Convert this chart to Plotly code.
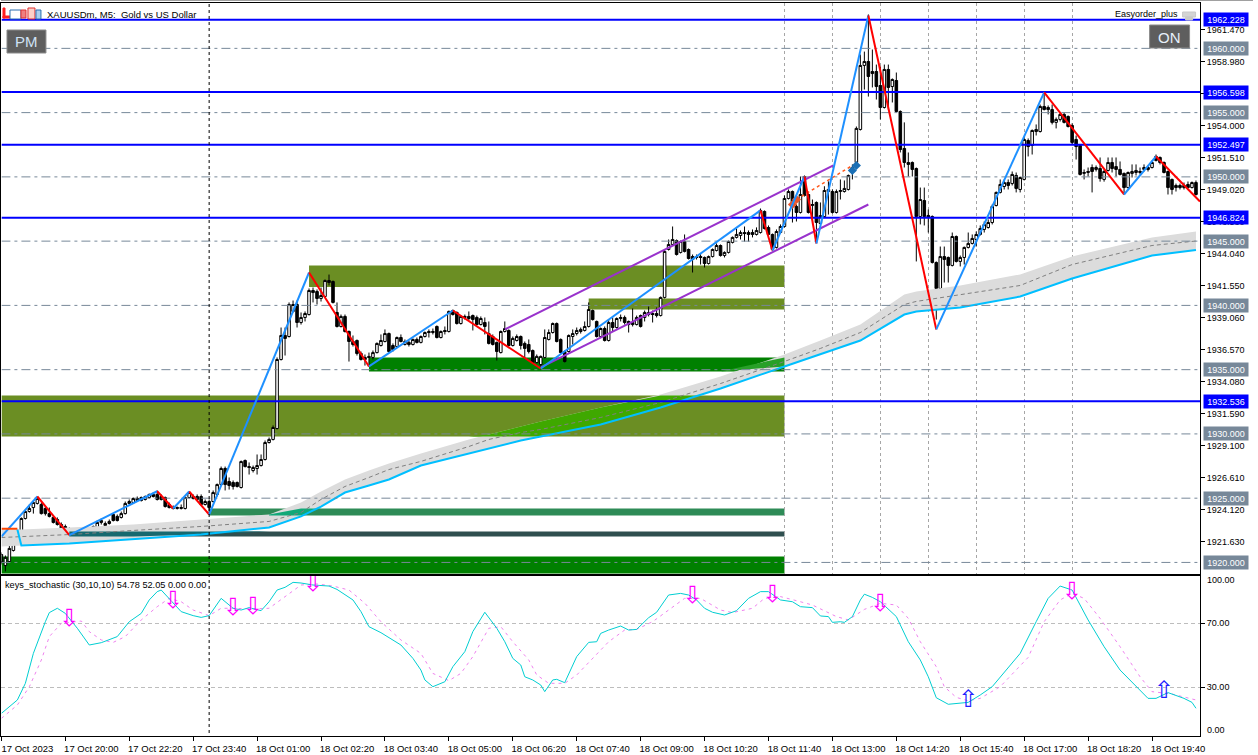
import numpy as np
import plotly.graph_objects as go

W, H = 1258, 755
W_AXIS = 1253.5   # width the page actually lays the paper out on

# ---------- candles: 5 minute XAUUSDm bars ----------
opens = [1920.62,1919.76,1920.07,1920.93,1922.09,1922.02,1923.42,1923.96,1924.27,1924.59,1924.51,1924.20,1923.80,1923.50,1923.34,1922.95,1922.79,1922.48,1922.17,1922.25,
1922.33,1922.41,1922.17,1922.48,1922.72,1923.11,1922.87,1923.03,1923.73,1923.58,1923.50,1923.80,1924.59,1924.66,1924.82,1925.05,1924.90,1925.05,1925.29,1925.29,
1925.13,1925.05,1924.51,1924.27,1924.20,1924.20,1924.20,1925.05,1924.98,1925.13,1925.13,1924.51,1924.74,1924.74,1925.29,1926.06,1927.31,1926.30,1926.22,1926.22,
1925.83,1927.93,1927.46,1927.15,1927.31,1927.54,1928.01,1929.33,1929.57,1930.42,1935.79,1937.66,1937.58,1939.53,1940.07,1938.67,1939.06,1939.29,1941.16,1941.08,
1940.54,1940.69,1941.94,1941.86,1939.45,1938.36,1939.14,1937.97,1937.19,1937.27,1936.26,1935.95,1936.03,1935.95,1936.33,1936.88,1937.19,1937.81,1936.88,1936.80,
1937.50,1936.96,1937.12,1936.96,1937.35,1937.12,1937.58,1937.97,1937.89,1938.36,1937.50,1938.05,1937.97,1939.60,1939.45,1938.59,1939.06,1939.14,1939.21,1939.06,
1938.51,1938.67,1937.81,1937.58,1937.12,1936.33,1937.97,1938.05,1936.88,1937.27,1937.58,1937.04,1936.96,1936.49,1935.56,1935.40,1935.95,1937.35,1937.89,1938.59,
1937.35,1936.41,1936.41,1937.58,1937.81,1937.97,1938.05,1938.36,1939.60,1938.75,1937.58,1938.20,1937.27,1938.67,1938.28,1938.98,1939.06,1938.75,1938.67,1938.51,
1939.21,1939.06,1939.29,1939.37,1939.37,1939.21,1940.62,1944.35,1944.74,1945.05,1944.12,1944.97,1944.35,1943.80,1943.80,1943.80,1943.73,1943.26,1943.80,1944.27,
1944.66,1943.88,1944.12,1944.90,1945.29,1945.44,1945.67,1945.67,1945.67,1945.52,1945.67,1947.31,1946.06,1945.52,1944.51,1945.67,1946.14,1948.32,1948.86,1947.70,
1947.23,1950.03,1948.63,1947.77,1948.01,1946.37,1946.92,1948.86,1948.86,1947.23,1948.86,1948.86,1949.02,1950.34,1951.12,1953.69,1958.67,1958.98,1958.20,1958.20,
1957.11,1955.40,1958.36,1957.03,1957.50,1955.09,1952.21,1951.12,1951.12,1950.65,1946.92,1948.16,1947.00,1946.92,1943.34,1941.32,1943.80,1943.73,1943.11,1945.36,
1943.42,1943.73,1944.51,1944.82,1945.13,1945.52,1945.91,1946.06,1946.45,1947.77,1948.79,1949.25,1949.56,1949.48,1950.11,1949.02,1949.80,1952.83,1952.44,1953.53,
1953.53,1955.48,1955.40,1955.24,1954.24,1954.47,1954.86,1954.70,1954.00,1952.91,1952.44,1950.27,1950.34,1950.73,1950.58,1950.65,1949.80,1950.50,1951.12,1950.80,
1950.58,1950.27,1949.17,1950.27,1950.34,1950.34,1950.58,1950.73,1950.73,1951.59,1951.51,1951.12,1950.42,1949.80,1949.33,1949.33,1949.17,1949.41,1949.17,1949.56]
highs = [1920.78,1920.54,1921.79,1922.17,1922.25,1923.50,1924.12,1924.51,1924.82,1925.13,1924.66,1924.35,1924.27,1923.65,1923.50,1923.11,1922.95,1922.72,1922.48,1922.48,
1922.56,1922.56,1922.56,1922.87,1923.26,1923.42,1923.19,1923.34,1923.80,1923.73,1923.96,1924.74,1924.90,1925.05,1925.13,1925.13,1925.21,1925.36,1925.44,1925.60,
1925.29,1925.13,1924.66,1924.43,1924.35,1924.51,1925.13,1925.52,1925.29,1925.29,1925.29,1924.90,1924.90,1925.60,1926.14,1927.46,1927.46,1926.61,1926.38,1926.30,
1927.93,1928.01,1927.78,1927.54,1928.40,1928.40,1929.49,1929.72,1930.66,1935.95,1938.28,1938.28,1940.23,1940.38,1940.38,1939.45,1939.53,1941.32,1941.39,1941.24,
1941.39,1942.02,1942.40,1941.94,1940.23,1939.29,1939.29,1938.05,1937.66,1937.35,1936.41,1936.18,1936.33,1936.49,1937.12,1937.74,1938.13,1937.89,1937.04,1937.58,
1937.74,1937.35,1937.27,1937.43,1937.50,1937.66,1937.97,1938.13,1938.20,1938.44,1938.05,1938.36,1939.60,1939.68,1939.53,1939.21,1939.29,1939.53,1939.29,1939.21,
1939.14,1939.06,1938.75,1937.74,1937.19,1938.05,1938.75,1938.13,1937.58,1937.74,1937.66,1937.19,1937.35,1936.57,1936.18,1936.10,1938.13,1938.13,1938.67,1938.67,
1937.43,1936.49,1937.74,1938.13,1938.28,1938.28,1938.75,1940.23,1939.68,1938.82,1938.28,1938.36,1938.90,1939.06,1939.06,1939.29,1939.21,1938.82,1939.76,1939.21,
1939.29,1939.60,1939.91,1939.60,1939.84,1940.69,1944.35,1945.13,1946.14,1945.13,1945.05,1945.52,1944.43,1943.96,1943.96,1944.04,1943.80,1943.88,1944.43,1944.82,
1944.74,1944.20,1945.05,1945.36,1945.98,1945.83,1946.14,1945.83,1945.91,1946.07,1947.54,1947.39,1946.22,1945.59,1945.91,1946.30,1948.55,1949.02,1948.94,1947.85,
1950.03,1950.11,1948.71,1948.24,1948.09,1948.01,1949.27,1949.65,1949.02,1949.02,1949.80,1949.72,1950.18,1950.97,1953.92,1959.52,1959.75,1962.64,1959.91,1958.74,
1958.59,1958.74,1958.74,1957.66,1958.12,1955.17,1954.24,1951.90,1951.20,1950.73,1949.17,1949.17,1947.46,1947.00,1943.42,1944.58,1944.58,1943.80,1945.67,1945.44,
1943.88,1944.58,1945.67,1945.52,1945.75,1946.22,1946.53,1946.69,1947.85,1948.86,1949.80,1949.80,1949.80,1950.42,1950.34,1950.03,1953.07,1952.99,1953.69,1954.08,
1955.63,1956.57,1955.56,1955.63,1954.62,1955.01,1955.01,1954.78,1954.16,1953.22,1952.52,1950.58,1950.73,1950.97,1950.89,1951.51,1950.58,1951.51,1951.51,1951.51,
1951.20,1950.34,1950.42,1950.97,1950.97,1950.73,1950.97,1950.89,1951.28,1951.74,1951.59,1951.20,1950.50,1949.87,1949.48,1949.48,1949.56,1949.64,1949.64,1949.72]
lows = [1919.84,1919.30,1920.00,1920.85,1921.71,1921.94,1923.34,1923.88,1923.80,1924.51,1923.73,1923.65,1923.50,1923.03,1922.87,1922.48,1922.41,1922.09,1922.09,1922.17,
1922.17,1922.17,1922.09,1922.41,1922.64,1922.95,1922.79,1922.95,1923.19,1923.19,1923.42,1923.73,1924.51,1924.59,1924.74,1924.74,1924.82,1924.98,1925.05,1924.82,
1924.82,1924.27,1924.20,1924.12,1924.12,1924.12,1924.12,1924.98,1924.90,1924.82,1924.43,1924.43,1923.73,1924.66,1925.13,1925.99,1925.60,1925.67,1925.67,1925.83,
1925.75,1927.39,1926.84,1927.00,1926.84,1927.46,1927.93,1929.25,1929.49,1930.35,1935.71,1936.10,1937.50,1939.45,1938.28,1938.51,1938.75,1939.21,1940.23,1940.07,
1940.30,1940.62,1941.55,1940.15,1938.28,1938.28,1937.89,1935.63,1936.80,1936.10,1935.71,1935.32,1935.24,1935.79,1936.26,1936.80,1937.12,1936.33,1936.41,1936.72,
1937.12,1936.88,1936.80,1936.88,1937.04,1937.04,1937.50,1937.50,1937.74,1937.43,1937.43,1937.74,1937.89,1939.21,1938.51,1938.51,1938.90,1938.82,1938.05,1938.44,
1938.44,1937.74,1936.96,1936.88,1935.71,1936.26,1937.89,1936.80,1936.80,1937.19,1936.57,1935.95,1936.26,1935.48,1935.48,1935.17,1935.87,1937.27,1937.81,1937.12,
1936.26,1935.56,1936.33,1936.96,1937.66,1937.81,1937.97,1938.28,1938.82,1937.50,1937.50,1937.19,1937.19,1937.97,1938.20,1938.75,1938.51,1937.89,1938.36,1938.44,
1938.28,1938.75,1939.14,1938.67,1939.06,1939.14,1940.54,1944.27,1944.66,1943.88,1944.04,1944.12,1943.57,1942.56,1943.57,1943.18,1942.95,1943.18,1943.73,1944.20,
1943.80,1943.73,1944.04,1944.82,1945.21,1945.13,1944.97,1944.97,1945.29,1945.44,1945.59,1945.91,1945.44,1944.27,1944.43,1945.59,1946.06,1948.24,1946.45,1946.53,
1947.15,1948.47,1947.15,1946.69,1944.90,1946.30,1946.84,1947.07,1947.15,1947.15,1948.24,1948.78,1948.94,1949.80,1951.04,1953.61,1956.80,1956.25,1956.96,1956.02,
1954.47,1955.32,1955.24,1955.79,1955.01,1951.90,1950.73,1950.03,1950.03,1943.42,1946.30,1946.22,1945.67,1943.26,1938.90,1940.85,1941.78,1941.78,1943.03,1943.34,
1943.03,1943.18,1944.43,1944.74,1944.58,1945.44,1945.67,1945.98,1946.30,1947.70,1948.71,1949.02,1949.02,1949.33,1948.79,1948.79,1949.72,1951.59,1951.74,1953.22,
1953.45,1955.17,1954.86,1954.08,1953.77,1954.31,1954.16,1953.84,1952.52,1951.35,1950.11,1949.80,1950.03,1948.79,1950.42,1949.63,1949.63,1950.42,1950.34,1950.03,
1950.11,1948.63,1949.10,1949.95,1950.11,1950.19,1950.42,1950.42,1950.65,1951.20,1950.97,1950.27,1948.63,1948.63,1948.86,1949.02,1949.02,1949.10,1949.10,1948.55]
closes = [1920.00,1920.39,1921.09,1922.02,1921.79,1923.42,1923.96,1924.20,1924.66,1924.98,1923.80,1923.80,1923.58,1923.11,1922.95,1922.56,1922.56,1922.17,1922.33,1922.41,
1922.41,1922.25,1922.48,1922.79,1923.11,1923.26,1923.03,1923.19,1923.26,1923.26,1923.80,1924.59,1924.74,1924.98,1924.98,1924.82,1925.13,1925.29,1925.13,1924.90,
1924.90,1924.35,1924.27,1924.20,1924.27,1924.27,1925.05,1925.44,1925.13,1924.90,1924.51,1924.74,1924.27,1925.44,1926.06,1927.31,1926.06,1925.99,1925.91,1925.91,
1927.85,1927.46,1927.39,1927.39,1927.54,1928.01,1929.33,1929.57,1930.50,1935.79,1937.66,1937.43,1940.07,1940.07,1938.67,1939.06,1939.37,1941.16,1941.00,1940.54,
1940.77,1941.94,1941.78,1940.23,1938.36,1939.14,1937.97,1937.19,1936.96,1936.26,1935.79,1935.79,1935.95,1936.33,1937.04,1937.27,1937.81,1936.41,1936.57,1937.50,
1937.19,1937.19,1936.96,1937.35,1937.12,1937.58,1937.89,1937.89,1937.97,1937.50,1937.97,1937.97,1939.53,1939.29,1938.59,1939.14,1939.14,1938.98,1938.90,1938.51,
1938.98,1938.36,1937.04,1936.96,1936.41,1937.97,1938.20,1936.88,1937.43,1937.58,1936.88,1936.65,1936.41,1935.56,1936.03,1936.03,1937.50,1937.89,1938.59,1937.19,
1936.33,1935.63,1937.66,1937.81,1938.05,1938.13,1938.36,1939.68,1938.90,1937.58,1938.20,1937.27,1938.67,1938.28,1938.98,1939.06,1938.67,1938.51,1938.51,1939.06,
1938.36,1939.45,1939.45,1939.29,1939.21,1940.62,1944.20,1944.74,1945.13,1943.96,1944.97,1944.20,1943.65,1943.57,1943.73,1943.73,1943.26,1943.80,1944.35,1944.66,
1943.88,1944.12,1944.97,1945.29,1945.52,1945.67,1945.59,1945.52,1945.52,1945.83,1947.39,1945.98,1945.52,1944.35,1945.75,1946.14,1948.32,1948.86,1947.70,1947.23,
1948.63,1948.55,1947.23,1947.85,1946.45,1946.99,1948.94,1949.02,1947.23,1948.86,1948.94,1949.10,1950.11,1950.73,1953.77,1958.67,1958.98,1957.81,1958.04,1957.03,
1955.40,1958.36,1956.96,1957.58,1955.09,1952.13,1951.12,1950.97,1950.58,1946.92,1948.24,1946.92,1946.84,1943.34,1941.32,1943.80,1943.57,1943.11,1945.36,1943.42,
1943.73,1944.51,1944.82,1945.21,1945.52,1945.98,1946.30,1946.45,1947.70,1948.79,1949.41,1949.56,1949.33,1950.19,1949.10,1949.95,1952.91,1952.36,1953.61,1953.69,
1955.48,1955.24,1955.24,1954.24,1954.47,1954.86,1954.24,1953.92,1952.68,1952.36,1950.19,1950.34,1950.42,1950.42,1950.73,1949.87,1950.42,1951.12,1950.65,1950.58,
1950.19,1949.17,1950.34,1950.42,1950.50,1950.42,1950.73,1950.58,1951.12,1951.28,1951.12,1950.34,1949.17,1949.02,1949.17,1949.17,1949.33,1949.17,1949.56,1948.63]

# ---------- moving average band ----------
ma_bars = [0,5,17,33,50,67,75,80,86,92,97,105,117,122,130,135,150,165,175,180,196,205,215,226,229,240,255,268,288,299]
ma_upper = [1922.56,1922.56,1922.72,1922.95,1923.34,1923.73,1924.66,1925.52,1926.45,1927.15,1927.70,1928.48,1929.57,1929.96,1930.58,1930.97,1932.06,1933.07,1934.00,1934.47,1936.18,1937.27,1938.52,1940.85,1941.08,1941.55,1942.41,1943.81,1945.29,1945.75]
ma_mid = [1921.94,1922.02,1922.17,1922.49,1922.80,1923.19,1923.89,1924.90,1925.91,1926.61,1927.23,1927.86,1929.02,1929.57,1930.11,1930.35,1931.28,1932.45,1933.46,1933.92,1935.64,1936.65,1937.89,1940.07,1940.31,1940.85,1941.55,1943.18,1944.66,1945.01]
ma_lower = [1921.24,1921.32,1921.47,1921.79,1922.17,1922.72,1923.58,1924.35,1925.44,1925.99,1926.45,1927.54,1928.48,1928.87,1929.49,1929.80,1930.73,1932.06,1933.07,1933.53,1935.25,1936.18,1937.27,1939.29,1939.53,1939.84,1940.69,1942.09,1943.88,1944.31]
ma_line_start_bar = 4
ma_line_start_price = 1922.56

# ---------- zigzag ----------
zig_bars = [0,9,17,39,43,47,52,77,92,113,135,190,193,201,204,217,234,261,281,289,300]
zig_prices = [1922.02,1925.13,1922.12,1925.54,1924.20,1925.52,1923.73,1942.56,1935.25,1939.60,1935.09,1947.39,1944.27,1950.03,1944.82,1962.56,1938.13,1956.57,1948.63,1951.59,1948.09]
orange_bars = [0,4]
orange_prices = [1922.62,1922.62]

# ---------- channel and trend ----------
chan_up_bars = [126,208.25]
chan_up_prices = [1938.13,1950.89]
chan_lo_bars = [135,217]
chan_lo_prices = [1935.17,1947.85]
trend_bars = [199,213]
trend_prices = [1948.24,1950.89]
sell_bars = [198,199]
sell_prices = [1947.85,1948.24]
buy_bars = [213,214]
buy_prices = [1950.50,1950.89]

# ---------- zones ----------
zone_start = [77,147,0,92,0,52,17]
zone_end = [196,196,196,196,196,196,196]
zone_top = [1943.11,1940.54,1932.99,1935.95,1920.46,1924.20,1922.41]
zone_bottom = [1941.43,1939.68,1929.80,1934.86,1919.14,1923.65,1922.02]
zone_colors = ["#6b8e23","#6b8e23","#6b8e23","#008000","#008000","#2e8b57","#2f4f4f"]

# ---------- levels ----------
round_levels = [1960,1955,1950,1945,1940,1935,1930,1925,1920]
key_levels = [1962.228,1956.598,1952.497,1946.824,1932.536]
price_ticks = [1961.47,1958.98,1956.49,1954.00,1951.51,1949.02,1946.53,1944.04,1941.55,1939.06,1936.57,1934.08,1931.59,1929.10,1926.61,1924.12,1921.63]
price_tick_labels = ["1961.470","1958.980","","1954.000","1951.510","1949.020","1946.530","1944.040","1941.550","1939.060","1936.570","1934.080","1931.590","1929.100","1926.610","1924.120","1921.630"]

# ---------- time axis ----------
time_tick_bars = list(range(0,289,16))
time_labels = ["17 Oct 2023","17 Oct 20:00","17 Oct 22:20","17 Oct 23:40","18 Oct 01:00","18 Oct 02:20","18 Oct 03:40","18 Oct 05:00","18 Oct 06:20","18 Oct 07:40","18 Oct 09:00","18 Oct 10:20","18 Oct 11:40","18 Oct 13:00","18 Oct 14:20","18 Oct 15:40","18 Oct 17:00","18 Oct 18:20","18 Oct 19:40"]
hour_grid_bars = [196,208,220,232,244,256,268]
cross_bar = 52

# ---------- stochastic ----------
st_bars = [0,4,6,8,11,12,14,16,19,21,22,25,29,32,35,37,39,40,42,45,48,50,52,55,58,60,62,65,67,69,71,73,75,78,82,84,88,90,92,95,100,103,105,106,108,111,113,116,118,121,124,126,128,130,131,133,135,136,138,139,141,144,147,149,150,152,155,157,159,162,164,167,170,172,174,176,178,181,184,187,190,192,195,198,200,203,205,207,208,210,211,213,215,216,218,220,224,227,230,232,234,237,242,245,248,252,255,259,262,265,268,272,276,280,284,287,289,292,296,298,299]
st_main = [13.5,21.9,32.3,51.0,70.8,76.5,79.2,76.0,66.7,59.4,56.25,57.7,61.5,70.8,76.0,84.4,89.6,90.6,85.4,77.1,74.6,73.5,74.6,85.4,79.2,78.1,79.6,77.7,83.3,90.6,92.3,95.4,95.0,93.75,93.1,91.0,84.4,77.1,67.7,63.96,56.25,47.9,40.6,34.4,30.2,33.3,42.7,52.1,64.6,76.7,66.7,58.3,47.9,43.75,36.4,34.4,31.25,27.1,34.4,34.8,32.7,49.0,57.9,58.3,63.5,65.6,68.1,65.6,66.0,73.3,76.7,87.5,88.5,87.5,84.4,79.2,76.7,75.0,77.7,85.4,89.6,89.6,84.4,83.3,80.2,79.6,74.4,74.0,70.4,70.8,70.4,73.96,84.4,88.0,86.0,83.3,74.0,58.3,46.9,36.4,23.3,19.2,20.4,25.0,30.2,41.7,51.0,70.8,85.4,93.1,90.6,71.9,55.2,40.6,30.2,22.9,22.9,26.5,22.9,20.4,16.7]
sig_bars = [0,4,7,10,12,15,20,22,25,28,31,35,39,42,45,48,52,55,58,63,67,72,75,79,83,87,91,95,100,105,108,112,115,118,122,125,128,132,134,137,141,144,148,152,156,159,163,168,171,175,180,183,188,191,195,199,203,209,212,216,220,224,227,230,234,236,239,242,245,250,257,261,265,268,271,275,280,285,288,293,299]
st_signal = [10.4,18.75,30.2,46.9,61.5,69.8,71.25,64.6,59.4,57.9,61.5,71.9,80.2,85.4,83.3,78.1,74.6,79.2,79.2,78.75,79.2,88.1,93.75,94.4,93.1,90.6,82.3,70.8,59.4,51.0,38.5,33.96,38.5,49.0,66.7,67.7,58.3,46.9,37.5,32.3,32.3,37.5,47.9,58.3,65.6,66.0,70.8,80.2,85.4,85.4,78.1,76.5,79.2,85.4,86.5,83.96,81.25,74.0,71.9,78.5,82.3,81.25,72.9,58.3,42.7,30.2,23.5,21.4,22.9,30.2,48.5,70.8,84.4,88.5,85.4,72.9,55.2,36.4,27.1,25.6,21.9]
down_bars = [17,43,58,63,78,173,193,220,268]
down_vals = [71.9,83.1,78.75,79.4,93.75,86.25,86.9,81.25,88.75]
up_bars = [242,291]
up_vals = [21.25,26.9]
stoch_ticks = [70,30]


def fx(px):
    return px / W_AXIS


def fy(px):
    return 1 - px / H


UI = "Liberation Sans"
fig = go.Figure()

# moving average band
fig.add_trace(go.Scatter(x=ma_bars + ma_bars[::-1], y=ma_upper + ma_lower[::-1], fill="toself",
                         fillcolor="#dcdcdc", mode="none", hoverinfo="skip"))


def overlap(i, colour):
    bars = np.array(ma_bars, dtype=float)
    keep = (bars >= zone_start[i]) & (bars <= zone_end[i])
    b = bars[keep]
    hi = np.clip(np.array(ma_upper)[keep], zone_bottom[i], zone_top[i])
    lo = np.clip(np.array(ma_lower)[keep], zone_bottom[i], zone_top[i])
    fig.add_trace(go.Scatter(x=np.r_[b, b[::-1]], y=np.r_[hi, lo[::-1]], fill="toself",
                             fillcolor=colour, mode="none", hoverinfo="skip"))


overlap(2, "#3fa800")
overlap(3, "#28a028")
overlap(5, "#12a878")
overlap(6, "#17696f")

fig.add_trace(go.Scatter(x=ma_bars, y=ma_mid, mode="lines", line=dict(color="#808080", width=1, dash="4px,3px")))
fig.add_trace(go.Scatter(x=[ma_line_start_bar] + ma_bars[1:], y=[ma_line_start_price] + ma_lower[1:], mode="lines",
                         line=dict(color="#00bfff", width=2)))

# candles
fig.add_trace(go.Candlestick(
    x=list(range(len(opens))), open=opens, high=highs, low=lows, close=closes,
    increasing=dict(line=dict(color="#000000", width=1), fillcolor="#ffffff"),
    decreasing=dict(line=dict(color="#000000", width=1), fillcolor="#000000"),
    whiskerwidth=0, hoverinfo="skip"))

# round levels, then key levels
for lv in round_levels:
    fig.add_trace(go.Scatter(x=[0, 300.1], y=[lv, lv], mode="lines",
                             line=dict(color="#778899", width=1, dash="9px,4px,3px,4px")))
for lv in key_levels:
    fig.add_trace(go.Scatter(x=[0, 300.1], y=[lv, lv], mode="lines", line=dict(color="#0000ff", width=2)))

# channel, trend, markers
purple = "#9932cc"
fig.add_trace(go.Scatter(x=chan_up_bars, y=chan_up_prices, mode="lines", line=dict(color=purple, width=2)))
fig.add_trace(go.Scatter(x=chan_lo_bars, y=chan_lo_prices, mode="lines", line=dict(color=purple, width=2)))
fig.add_trace(go.Scatter(x=trend_bars, y=trend_prices, mode="lines", line=dict(color="#ff5a1e", width=1.5, dash="3px,3px")))
fig.add_trace(go.Scatter(x=sell_bars, y=sell_prices, mode="markers", marker=dict(symbol="diamond", size=7, color="#e8552a")))
fig.add_trace(go.Scatter(x=buy_bars, y=buy_prices, mode="markers", marker=dict(symbol="diamond", size=7, color="#1a6fb5")))

# zigzag legs, coloured by direction
for k in range(len(zig_bars) - 1):
    up = zig_prices[k + 1] > zig_prices[k]
    fig.add_trace(go.Scatter(x=zig_bars[k:k + 2], y=zig_prices[k:k + 2], mode="lines",
                             line=dict(color="#1e90ff" if up else "#ff0000", width=2)))
fig.add_trace(go.Scatter(x=orange_bars, y=orange_prices, mode="lines", line=dict(color="#ff4500", width=2)))

# stochastic
fig.add_trace(go.Scatter(x=sig_bars, y=st_signal, xaxis="x2", yaxis="y2", mode="lines",
                         line=dict(color="#ee82ee", width=1, dash="3px,4px")))
fig.add_trace(go.Scatter(x=st_bars, y=st_main, xaxis="x2", yaxis="y2", mode="lines",
                         line=dict(color="#00ced1", width=1)))
fig.add_trace(go.Scatter(x=down_bars, y=down_vals, xaxis="x2", yaxis="y2", mode="text", text=["\u21e9"] * len(down_bars),
                         textfont=dict(family="DejaVu Sans", size=24, color="#ff00ff"), textposition="middle center"))
fig.add_trace(go.Scatter(x=up_bars, y=up_vals, xaxis="x2", yaxis="y2", mode="text", text=["\u21e7"] * len(up_bars),
                         textfont=dict(family="DejaVu Sans", size=24, color="#2020ff"), textposition="middle center"))

# zones as rectangles behind everything
shapes = []
for s, e, t, b, c in zip(zone_start, zone_end, zone_top, zone_bottom, zone_colors):
    shapes.append(dict(type="rect", xref="x", yref="y", x0=s, x1=e, y0=b, y1=t, layer="below",
                       fillcolor=c, line=dict(width=0)))
# crosshair through both panes
shapes.append(dict(type="line", xref="x", yref="paper", x0=cross_bar, x1=cross_bar, y0=fy(733), y1=fy(3),
                   line=dict(color="#000000", width=1, dash="3px,3px")))
# thin window rule along the very top
shapes.append(dict(type="line", xref="paper", yref="paper", x0=0, x1=1, y0=fy(0.5), y1=fy(0.5),
                   line=dict(color="#a0a0a0", width=1)))


def px_rect(x0, y0, x1, y1, fill, line=None):
    shapes.append(dict(type="rect", xref="paper", yref="paper", x0=fx(x0), x1=fx(x1), y0=fy(y1), y1=fy(y0),
                       fillcolor=fill, line=dict(color=line or fill, width=1)))


# PM / ON buttons
px_rect(6, 30, 45, 53, "#5e5e5e", "#8a8a8a")
px_rect(1150, 25, 1190, 48, "#5e5e5e", "#8a8a8a")
# small toolbar icons at the top left
px_rect(2, 8, 4, 18, "#ff2020")
px_rect(2, 16, 9, 18, "#ff2020")
px_rect(9, 10, 20, 19, "#ffffff", "#2a6fb0")
px_rect(20, 10, 25, 18, "#f08080", "#e03030")
px_rect(27, 8, 34, 19, "#fbd0c8", "#e03030")
px_rect(35, 10, 40, 19, "#a8d0f0", "#2a6fb0")
# cap icon beside the expert name
px_rect(1183, 12, 1196, 17, "#d4d4d4", "#c8c8c8")
px_rect(1186, 17, 1193, 20, "#c8c8c8", "#c8c8c8")

ann = []
for lv in round_levels:
    ann.append(dict(xref="paper", yref="y", x=fx(1203), y=lv, xanchor="left", yanchor="middle", showarrow=False,
                    text=f"{lv:.3f}", font=dict(family=UI, size=9, color="#ffffff"),
                    bgcolor="#778899", width=44, height=13, borderpad=0))
for lv in key_levels:
    ann.append(dict(xref="paper", yref="y", x=fx(1203), y=lv, xanchor="left", yanchor="middle", showarrow=False,
                    text=f"{lv:.3f}", font=dict(family=UI, size=9, color="#ffffff"),
                    bgcolor="#0000ff", width=44, height=13, borderpad=0))


def label(x, y, text, size=9.5, color="#000000", anchor="left"):
    ann.append(dict(xref="paper", yref="paper", x=fx(x), y=fy(y), xanchor=anchor, yanchor="middle", showarrow=False,
                    text=text, font=dict(family=UI, size=size, color=color), borderpad=0, borderwidth=0))


label(46, 14, "XAUUSDm, M5:  Gold vs US Dollar")
label(1115, 14, "Easyorder_plus", 9)
label(4, 585, "keys_stochastic (30,10,10) 54.78 52.05 0.00 0.00", 9.2)
label(25.5, 41.5, "PM", 15, "#cfe2f5", "center")
label(1170, 37, "ON", 15, "#e6f0fa", "center")
label(1207, 580, "100.00", 9)
label(1207, 729.5, "0.00", 9)

tickfont = dict(family=UI, size=9, color="#000000")
timefont = dict(family=UI, size=9.5, color="#000000")
fig.update_layout(
    width=W, height=H, autosize=False, showlegend=False, hovermode=False,
    margin=dict(l=0, r=0, t=0, b=0, pad=0),
    paper_bgcolor="#ffffff", plot_bgcolor="#ffffff",
    boxgap=0.2, boxgroupgap=0.2,
    shapes=shapes, annotations=ann,
    xaxis=dict(domain=[fx(0.5), fx(1200.5)], range=[0.025, 300.025], anchor="y", rangeslider=dict(visible=False),
               tickmode="array", tickvals=hour_grid_bars, ticktext=[""] * len(hour_grid_bars), ticks="",
               showgrid=True, gridcolor="#a6a6a6", gridwidth=1, griddash="3px,3px", zeroline=False,
               showline=True, linecolor="#000000", linewidth=1, mirror=True),
    yaxis=dict(domain=[fy(574), fy(3)], range=[1919.10, 1963.53], anchor="x", side="right",
               tickmode="array", tickvals=price_ticks, ticktext=price_tick_labels,
               ticks="outside", ticklen=4, tickcolor="#000000", tickfont=tickfont, showgrid=False, zeroline=False,
               showline=True, linecolor="#000000", linewidth=1, mirror=True),
    xaxis2=dict(domain=[fx(0.5), fx(1200.5)], range=[0.025, 300.025], anchor="y2",
                tickmode="array", tickvals=time_tick_bars, ticktext=time_labels, ticks="outside", ticklen=4,
                tickcolor="#000000", tickfont=timefont, ticklabelshift=26, ticklabelstandoff=0, showgrid=False, zeroline=False,
                showline=True, linecolor="#000000", linewidth=1, mirror=True),
    yaxis2=dict(domain=[fy(735.5), fy(575.5)], range=[-0.31, 99.69], anchor="x2", side="right",
                tickmode="array", tickvals=stoch_ticks, ticktext=[f"{v:.2f}" for v in stoch_ticks],
                ticks="outside", ticklen=4, tickcolor="#000000", tickfont=tickfont,
                showgrid=True, gridcolor="#bdbdbd", gridwidth=1, griddash="4px,3px", zeroline=False,
                showline=True, linecolor="#000000", linewidth=1, mirror=True),
)

fig.write_html("out.html", config=dict(displayModeBar=False, responsive=False),
               post_script="document.body.style.margin='0';document.documentElement.style.overflow='hidden';")
